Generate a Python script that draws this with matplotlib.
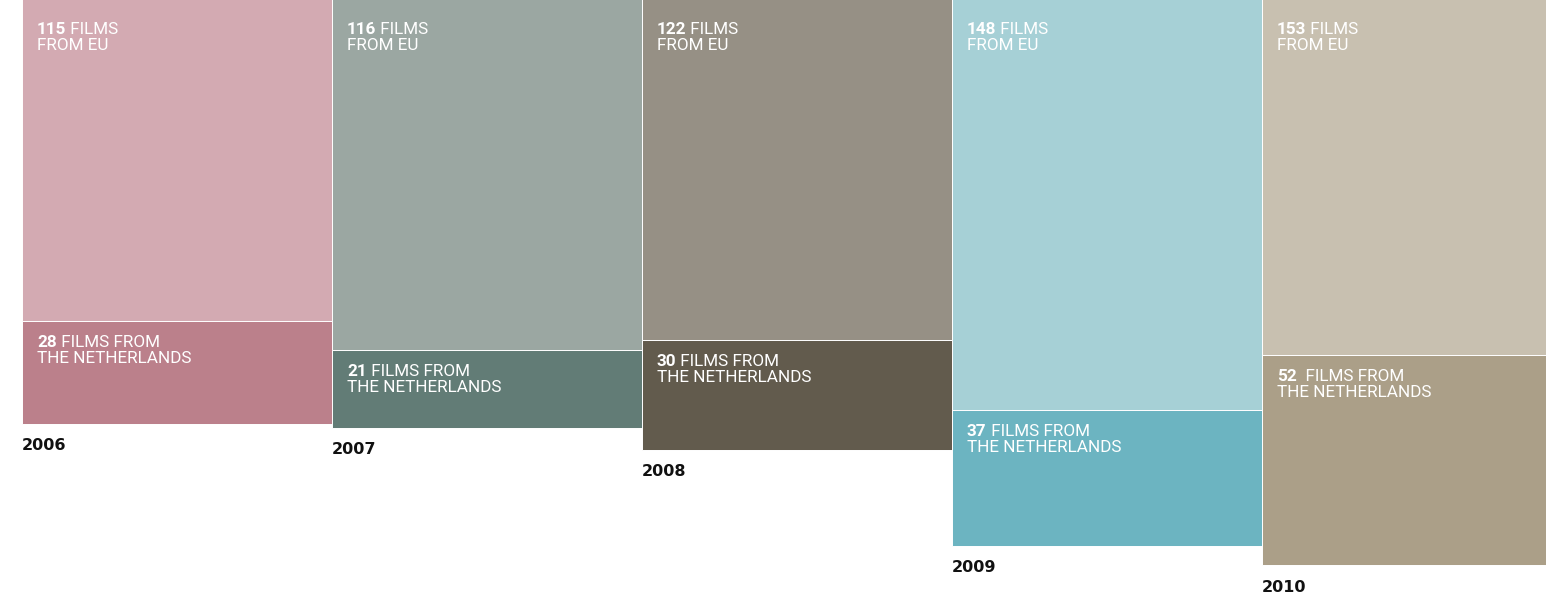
import matplotlib.pyplot as plt

years = ['2006', '2007', '2008', '2009', '2010']
eu_films = [115, 116, 122, 148, 153]
nl_films = [28, 21, 30, 37, 52]
# bar lengths as drawn in the original graphic (they are not to scale with the counts)
eu_len = [322, 351, 341, 411, 356]
nl_len = [103, 78, 110, 136, 210]

eu_colors = ['#d3aab2', '#9ba7a2', '#969085', '#a6d0d6', '#c8c0b0']
nl_colors = ['#bb808b', '#627c76', '#625b4d', '#6cb4c1', '#ab9f88']

PX = 0.72  # points per pixel at dpi 100
TXT = dict(fontsize=12.3, color='white', family='Roboto', annotation_clip=False)


def bar_label(xi, y, num, rest, line2, dy):
    # bold number followed by regular text, then a second line
    t = ax.annotate(str(num), xy=(xi, y), xytext=(15 * PX, -dy * PX),
                    textcoords='offset points', va='baseline', ha='left',
                    fontweight='bold', **TXT)
    ax.annotate(rest, xy=(1, 0), xycoords=t, va='bottom', ha='left', **TXT)
    ax.annotate(line2, xy=(xi, y), xytext=(15 * PX, -(dy + 16) * PX),
                textcoords='offset points', va='baseline', ha='left', **TXT)


fig = plt.figure(figsize=(15.46, 5.97), dpi=100)
ax = fig.add_axes([0, 0, 1, 1])

x = list(range(len(years)))
ax.bar(x, eu_len, width=1.0, align='edge', color=eu_colors,
       edgecolor='white', linewidth=0.7)
ax.bar(x, nl_len, bottom=eu_len, width=1.0, align='edge', color=nl_colors,
       edgecolor='white', linewidth=0.7)

# top edge of the bars sits just above the figure, like in the original
ax.set_xlim(-22 / 310, 1524 / 310)
ax.set_ylim(598, 1)
ax.axis('off')

for i in x:
    bar_label(i, 0, eu_films[i], ' FILMS', 'FROM EU', 35)
    rest = '  FILMS FROM' if nl_films[i] == 52 else ' FILMS FROM'
    bar_label(i, eu_len[i], nl_films[i], rest, 'THE NETHERLANDS', 26)
    ax.annotate(years[i], xy=(i, eu_len[i] + nl_len[i]), xytext=(0, -22 * PX),
                textcoords='offset points', va='center', ha='left',
                fontsize=11.5, fontweight='bold', color='#111111',
                family='DejaVu Sans')

fig.savefig('out.png', dpi=100)
